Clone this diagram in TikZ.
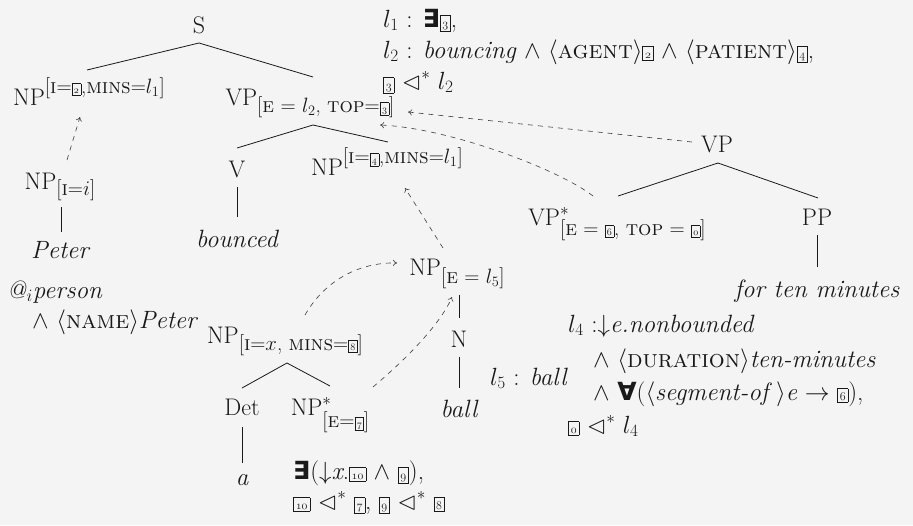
\documentclass[tikz,border=0pt]{standalone}
\usepackage{amsmath,amssymb}
\usepackage{fontspec}
\newfontfamily\djs{DejaVu Sans}
\usetikzlibrary{arrows.meta}
\definecolor{bg}{RGB}{244,244,244}
\definecolor{ink}{RGB}{25,25,25}
\newcommand\bx[2][12]{{\fontsize{#1}{#1}\selectfont\setlength\fboxsep{0.12em}\setlength\fboxrule{0.5pt}\fbox{\rule[-0.05em]{0pt}{0.85em}\makebox[0.6em]{$\mathnormal{#2}$}}}}
\newcommand\bxx[2][12]{{\fontsize{#1}{#1}\selectfont\setlength\fboxsep{0.12em}\setlength\fboxrule{0.5pt}\fbox{\rule[-0.05em]{0pt}{0.85em}\makebox[1.1em]{$\mathnormal{#2}$}}}}
\newcommand\scx[1]{{\addfontfeatures{LetterSpace=6}\textsc{#1}}}
\newcommand\ann[1]{{\fontsize{21}{21}\selectfont #1}}
\newcommand\bex{{\djs\bfseries ∃}}
\newcommand\bfa{{\djs\bfseries ∀}}
\begin{document}
\begin{tikzpicture}[x=1pt,y=-1pt,
  lab/.style={inner sep=0pt,anchor=base,text=ink,font=\fontsize{24}{28}\selectfont},
  word/.style={inner sep=0pt,anchor=base,text=ink,font=\fontsize{25}{28}\selectfont\itshape},
  txt/.style={inner sep=0pt,anchor=base west,text=ink,font=\fontsize{25}{28}\selectfont},
  edge/.style={draw=ink,line width=0.8pt},
  link/.style={draw=ink!85,line width=0.6pt,dash pattern=on 5pt off 5pt,-{To[length=4pt,width=6pt]}}]
\useasboundingbox[fill=bg] (0,0) rectangle (913,525);
% tree nodes
\node[lab] (S) at (199,33) {S};
\node[lab] (np1) at (89,105) {NP\raisebox{12pt}{\ann{[\scx{i}=\bx[10]{2},\scx{mins}=$l_1$]}}};
\node[lab] (vp1) at (310,105) {VP\raisebox{-7pt}{\ann{[\scx{e} = $l_2$, \scx{top}=\bx[10]{3}]}}};
\node[lab] (npi) at (60,189) {NP\raisebox{-6pt}{\ann{[\scx{i}=$i$]}}};
\node[word] (peter) at (60,258) {Peter};
\node[lab] (v) at (237,177) {V};
\node[word] (bounced) at (237,247) {bounced};
\node[lab] (np2) at (387,175) {NP\raisebox{12pt}{\ann{[\scx{i}=\bx[10]{4},\scx{mins}=$l_1$]}}};
\node[lab] (vp2) at (717,152) {VP};
\node[lab] (vps) at (617,225) {VP\rlap{$^*$}\raisebox{-10pt}{\ann{[\scx{e} = \bx[10]{6}, \scx{top} = \bx[10]{0}]}}};
\node[lab] (pp) at (817,225) {PP};
\node[word] (ftm) at (817,297) {for ten minutes};
\node[lab] (np5) at (457,275) {NP\raisebox{-8pt}{\ann{[\scx{e} = $l_5$]}}};
\node[lab] (n) at (459,347) {N};
\node[word] (ball) at (459,417) {ball};
\node[lab] (npx) at (285,343) {NP\raisebox{-7pt}{\ann{[\scx{i}=$x$, \scx{mins}=\bx[10]{8}]}}};
\node[lab] (det) at (242,415) {Det};
\node[word] (a) at (242,485) {a};
\node[lab] (nps) at (330,415) {NP\rlap{$^*$}\raisebox{-12pt}{\ann{[\scx{e}=\bx[10]{7}]}}};
% tree edges
\draw[edge] ([yshift=-10pt]S.base) -- ([xshift=-2pt,yshift=35pt]np1.base);
\draw[edge] ([yshift=-10pt]S.base) -- ([xshift=3pt,yshift=28pt]vp1.base);
\draw[edge] ([xshift=3pt,yshift=-20pt]vp1.base) -- ([yshift=29pt]v.base);
\draw[edge] ([xshift=3pt,yshift=-20pt]vp1.base) -- ([xshift=1pt,yshift=33pt]np2.base);
\draw[edge] ([xshift=1pt,yshift=-18pt]npi.base) -- ([xshift=1pt,yshift=26pt]peter.base);
\draw[edge] ([yshift=-10pt]v.base) -- ([yshift=30pt]bounced.base);
\draw[edge] ([xshift=1pt,yshift=-11pt]vp2.base) -- ([xshift=1pt,yshift=29pt]vps.base);
\draw[edge] ([xshift=1pt,yshift=-11pt]vp2.base) -- ([xshift=1pt,yshift=27pt]pp.base);
\draw[edge] ([yshift=-10pt]pp.base) -- ([yshift=30pt]ftm.base);
\draw[edge] ([xshift=2pt,yshift=-20pt]np5.base) -- ([yshift=29pt]n.base);
\draw[edge] ([yshift=-10pt]n.base) -- ([yshift=29pt]ball.base);
\draw[edge] ([xshift=2pt,yshift=-20pt]npx.base) -- ([yshift=27pt]det.base);
\draw[edge] ([xshift=2pt,yshift=-20pt]npx.base) -- ([yshift=29pt]nps.base);
\draw[edge] ([yshift=-12pt]det.base) -- ([yshift=22pt]a.base);
% dashed links
\draw[link] ([xshift=7pt,yshift=29pt]npi.base) -- ([xshift=-9pt,yshift=-12pt]np1.base);
\draw[link] ([xshift=-25pt,yshift=10pt]vp2.base) -- ([xshift=98pt,yshift=-7pt]vp1.base);
\draw[link] ([xshift=-24pt,yshift=29pt]vps.base) .. controls +(-33,-26) and +(70,3) .. ([xshift=70pt,yshift=-20pt]vp1.base);
\draw[link] ([xshift=-14pt,yshift=27pt]np5.base) -- ([xshift=18pt,yshift=-13pt]np2.base);
\draw[link] ([xshift=20pt,yshift=28pt]npx.base) .. controls +(20,-35) and +(-37,-1) .. ([xshift=-60pt,yshift=12pt]np5.base);
\draw[link] ([xshift=43pt,yshift=28pt]nps.base) .. controls +(32,-27) and +(-12,28) .. ([xshift=-5pt,yshift=-22pt]np5.base);
% semantic texts
\node[txt] (t1) at (383,27) {$l_1$ : \bex\bx{3},};
\node[txt] (t2) at (383,58) {$l_2$ : \textit{bouncing} $\wedge$ $\langle$\scx{agent}$\rangle$\bx{2} $\wedge$ $\langle$\scx{patient}$\rangle$\bx{4},};
\node[txt] (t3) at (383,89) {\bx{3} $\lhd^*$ $l_2$};
\node[txt] (pa) at (7,298) {\textit{@}$_i$\textit{person}};
\node[txt] (pb) at (32,328) {$\wedge$ $\langle$\textsc{name}$\rangle$\textit{Peter}};
\node[txt] (l5) at (490,385) {$l_5$ : \textit{ball}};
\node[txt] (r1) at (568,332) {$l_4$ :$\downarrow$\textit{e.nonbounded}};
\node[txt] (r2) at (593,367) {$\wedge$ $\langle$\scx{duration}$\rangle$\textit{ten-minutes}};
\node[txt] (r3) at (593,400) {$\wedge$ \bfa($\langle$\textit{segment-of}\,$\rangle$\textit{e} $\rightarrow$ \bx{6}),};
\node[txt] (r4) at (568,433) {\bx{0} $\lhd^*$ $l_4$};
\node[txt] (b1) at (293,479) {\bex($\downarrow$\textit{x}.\bxx{10} $\wedge$ \bx{9}),};
\node[txt] (b2) at (293,509) {\bxx{10} $\lhd^*$ \bx{7}, \bx{9} $\lhd^*$ \bx{8}};
\end{tikzpicture}
\end{document}
